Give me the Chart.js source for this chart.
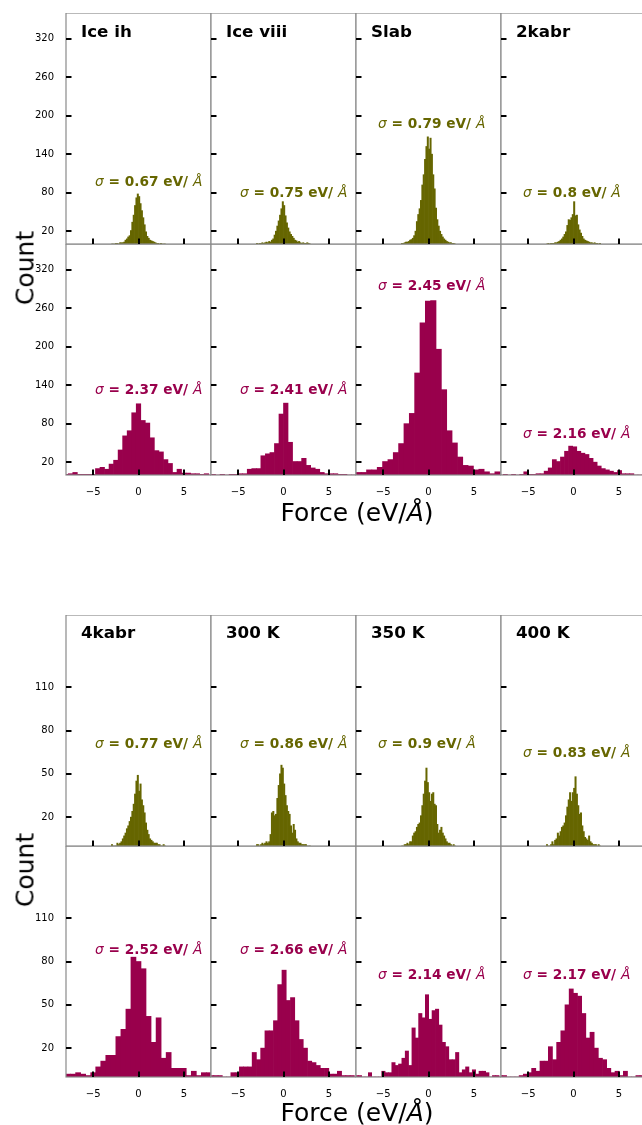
<!DOCTYPE html>
<html><head><meta charset="utf-8">
<script src="https://cdn.jsdelivr.net/npm/chart.js@4.4.1/dist/chart.umd.min.js"></script>
<style>
html,body{margin:0;padding:0;background:#fff;overflow:hidden;width:642px;height:1125px;}
#root{position:relative;width:642px;height:1125px;overflow:hidden;font-family:'DejaVu Sans',sans-serif;}
canvas{position:absolute;}
.t{position:absolute;line-height:1;white-space:nowrap;transform:translateY(-50%);}
.title{font-weight:bold;font-size:16.7px;color:#000;}
.sig{font-weight:bold;font-size:13.7px;}
.sig i{font-weight:normal;}
.axl{position:absolute;line-height:1;white-space:nowrap;font-size:25px;color:#000;transform:translate(-50%,-50%);}
</style></head><body><div id="root"></div>
<script>
// ---------------- DATA ----------------
const panelNames = ['Ice ih','Ice viii','Slab','2kabr','4kabr','300 K','350 K','400 K'];
const sigmaTop = ['0.67','0.75','0.79','0.8','0.77','0.86','0.9','0.83'];      // olive (upper) row
const sigmaBottom = ['2.37','2.41','2.45','2.16','2.52','2.66','2.14','2.17'];  // maroon (lower) row
const xTicks = [-5, 0, 5];
const yTicksGroup1 = [20, 80, 140, 200, 260, 320];
const yTicksGroup2 = [20, 50, 80, 110];
const yMaxGroup = [360, 160];

// olive histograms: bins start at -3, width 0.15
const oliveBinStart = -3.0;
const oliveBinWidth = 0.15;
const iceIhOlive   = [0,0,0,1,1,0,2,2,2,3,6,8,11,13,21,34,45,60,72,78,74,63,52,41,30,19,12,9,6,5,4,3,2,1,1,0,1,0,0,0];
const iceViiiOlive = [1,0,1,1,2,1,2,3,2,4,3,6,8,14,20,28,36,45,55,66,60,44,33,25,19,15,12,9,6,5,3,4,2,1,2,1,1,2,1,0];
const slabOlive    = [1,1,2,3,3,4,6,7,9,13,20,35,46,55,68,92,108,132,152,167,148,165,140,108,86,56,38,28,20,15,11,8,6,4,3,2,2,1,1,0];
const kabr2Olive   = [0,1,0,1,1,1,2,2,3,4,6,8,11,15,19,29,38,37,41,46,66,44,45,30,22,17,12,8,6,5,4,3,2,2,1,2,1,1,0,1];
const kabr4Olive   = [1,0,0,0,2,1,2,3,5,7,9,12,14,17,20,24,29,36,45,49,38,43,32,28,23,16,11,8,5,4,3,2,2,2,1,1,0,0,1,0];
const k300Olive    = [1,1,0,1,2,1,2,3,2,3,8,23,24,21,22,33,42,50,56,54,43,35,28,24,22,14,9,15,11,5,3,2,2,1,1,1,1,0,0,0];
const k350Olive    = [0,0,1,1,2,1,3,3,7,9,10,13,15,16,21,28,36,45,54,44,37,31,36,37,29,28,15,9,11,13,9,7,5,3,2,2,1,0,1,0];
const k400Olive    = [1,0,0,1,3,1,4,5,9,7,10,13,14,16,21,27,32,37,31,37,40,48,36,28,22,23,14,10,6,5,4,7,3,2,1,1,1,0,1,0];

// maroon histograms: each with its own bin start and width
const maroonBinStart = [-8.25, -8.0, -8.02, -8.19, -8.05, -8.16, -8.12, -8.30];
const maroonBinWidth = [0.5, 0.5, 0.59, 0.45, 0.555, 0.47, 0.37, 0.46];
const iceIhMaroon   = [1,2,4,1,1,1,1,10,12,9,17,23,39,61,69,97,111,85,81,58,38,36,24,18,4,9,3,3,2,2,1,2,0];
const iceViiiMaroon = [1,0,1,0,1,1,2,2,9,10,10,30,33,35,49,95,112,51,21,21,26,15,11,9,4,2,2,2,1,1,0,0];
const slabMaroon    = [4,4,8,8,12,21,24,35,49,80,96,159,237,271,272,196,133,69,50,28,15,14,8,9,5,2,5];
const kabr2Maroon   = [0,1,0,1,0,1,5,1,1,2,2,6,11,24,21,28,37,45,44,37,34,32,26,20,14,10,8,6,4,7,2,2,2,0,0,0];
const kabr4Maroon   = [2,2,3,2,1,3,7,11,15,15,28,33,47,83,80,75,42,24,41,13,17,6,6,6,1,4,1,3,3];
const k300Maroon    = [1,1,1,0,0,3,3,7,7,7,17,12,20,32,32,39,64,74,53,55,39,26,20,11,10,8,6,6,2,2,4,1,1,1,0];
const k350Maroon    = [1,1,0,0,3,0,0,0,4,3,3,10,8,9,13,18,8,34,27,44,41,57,40,46,47,36,24,21,12,12,17,3,5,7,3,5,2,4,4,3,0,1,1,0];
const k400Maroon    = [1,1,0,0,0,1,2,3,6,4,11,11,21,12,24,32,50,61,58,56,44,27,31,20,13,12,6,3,4,1,4,0,0,1,1,0];

const oliveSeries  = [iceIhOlive, iceViiiOlive, slabOlive, kabr2Olive, kabr4Olive, k300Olive, k350Olive, k400Olive];
const maroonSeries = [iceIhMaroon, iceViiiMaroon, slabMaroon, kabr2Maroon, kabr4Maroon, k300Maroon, k350Maroon, k400Maroon];

// ---------------- LAYOUT / STYLE ----------------
const OLIVE = '#666600';
const MAROON = '#99004c';
const colLeft = [66, 211, 356, 501];
const groupTop = [13, 615];
const panelW = 145, panelH = 231, marginL = 40, marginB = 30;
// sigma label positions (left, centre-y) per panel: [olive, maroon]
const sigmaPos = [
  [[95,182],[95,390]], [[240,193],[240,390]], [[378,124],[378,286]], [[523,193],[523,434]],
  [[95,744],[95,950]], [[240,744],[240,950]], [[378,744],[378,975]], [[523,753],[523,975]]
];

Chart.defaults.font.family = "'DejaVu Sans', sans-serif";
Chart.defaults.font.size = 10;
Chart.defaults.color = '#000';

const root = document.getElementById('root');

const framePlugin = {
  id: 'frame',
  afterDatasetsDraw(chart) {
    const {ctx, chartArea: a, scales: {x, y}} = chart;
    ctx.save();
    ctx.strokeStyle = '#8a8a8a';
    ctx.lineWidth = 1.2;
    ctx.strokeRect(a.left, a.top, a.right - a.left, a.bottom - a.top);
    ctx.strokeStyle = '#000';
    ctx.lineWidth = 2;
    y.ticks.forEach(t => {
      const py = Math.round(y.getPixelForValue(t.value));
      ctx.beginPath(); ctx.moveTo(a.left, py); ctx.lineTo(a.left + 5.5, py); ctx.stroke();
    });
    x.ticks.forEach(t => {
      const px = Math.round(x.getPixelForValue(t.value));
      ctx.beginPath(); ctx.moveTo(px, a.bottom); ctx.lineTo(px, a.bottom - 5.5); ctx.stroke();
    });
    ctx.restore();
  }
};

function fmt(v) { return v < 0 ? '\u2212' + Math.abs(v) : String(v); }
function zeroPad(s) { s.paddingTop = 0; s.paddingBottom = 0; s.paddingLeft = 0; s.paddingRight = 0; }

function makePanel(group, row, col, counts, start, width, color) {
  const left = colLeft[col] - marginL;
  const top = groupTop[group] + row * panelH;
  const cv = document.createElement('canvas');
  cv.width = panelW + marginL; cv.height = panelH + marginB;
  cv.style.left = left + 'px'; cv.style.top = top + 'px';
  cv.style.width = cv.width + 'px'; cv.style.height = cv.height + 'px';
  root.appendChild(cv);
  const data = counts.map((c, i) => ({x: start + width * (i + 0.5), y: c}));
  const yTicks = group === 0 ? yTicksGroup1 : yTicksGroup2;
  new Chart(cv, {
    type: 'bar',
    data: {datasets: [{data, backgroundColor: color, borderWidth: 0, barPercentage: 1, categoryPercentage: 1}]},
    options: {
      responsive: false, animation: false, devicePixelRatio: 1, events: [],
      layout: {padding: 0},
      plugins: {legend: {display: false}, tooltip: {enabled: false}},
      scales: {
        x: {
          type: 'linear', min: -8, max: 8, offset: false,
          grid: {display: false}, border: {display: false},
          afterBuildTicks: s => { s.ticks = xTicks.map(v => ({value: v})); },
          afterFit: s => { s.height = marginB; zeroPad(s); },
          ticks: {display: row === 1, padding: 3, callback: v => fmt(v), autoSkip: false, maxRotation: 0, font: {size: 10}}
        },
        y: {
          type: 'linear', min: 0, max: yMaxGroup[group],
          grid: {display: false}, border: {display: false},
          afterBuildTicks: s => { s.ticks = yTicks.map(v => ({value: v})); },
          afterFit: s => { s.width = marginL; zeroPad(s); },
          ticks: {display: col === 0, padding: 4, autoSkip: false, font: {size: 10}}
        }
      }
    },
    plugins: [framePlugin]
  });
}

function addText(cls, html, x, y, color) {
  const d = document.createElement('div');
  d.className = 't ' + cls;
  d.innerHTML = html;
  d.style.left = x + 'px'; d.style.top = y + 'px';
  if (color) d.style.color = color;
  root.appendChild(d);
}

for (let p = 0; p < 8; p++) {
  const group = p < 4 ? 0 : 1;
  const col = p % 4;
  makePanel(group, 0, col, oliveSeries[p], oliveBinStart, oliveBinWidth, OLIVE);
  makePanel(group, 1, col, maroonSeries[p], maroonBinStart[p], maroonBinWidth[p], MAROON);
  addText('title', panelNames[p], colLeft[col] + 15, group === 0 ? 30.5 : 632);
  addText('sig', '<i>σ</i> = ' + sigmaTop[p] + ' eV/ <i>Å</i>', sigmaPos[p][0][0], sigmaPos[p][0][1], OLIVE);
  addText('sig', '<i>σ</i> = ' + sigmaBottom[p] + ' eV/ <i>Å</i>', sigmaPos[p][1][0], sigmaPos[p][1][1], MAROON);
}

function axisLabel(html, x, y, rot) {
  const d = document.createElement('div');
  d.className = 'axl';
  d.innerHTML = html;
  d.style.left = x + 'px'; d.style.top = y + 'px';
  if (rot) d.style.transform = 'translate(-50%,-50%) rotate(-90deg)';
  root.appendChild(d);
}
axisLabel('Count', 25, 268, true);
axisLabel('Count', 25, 870, true);
axisLabel('Force (eV/<i>Å</i>)', 357, 512, false);
axisLabel('Force (eV/<i>Å</i>)', 357, 1112, false);
</script>
</body></html>
